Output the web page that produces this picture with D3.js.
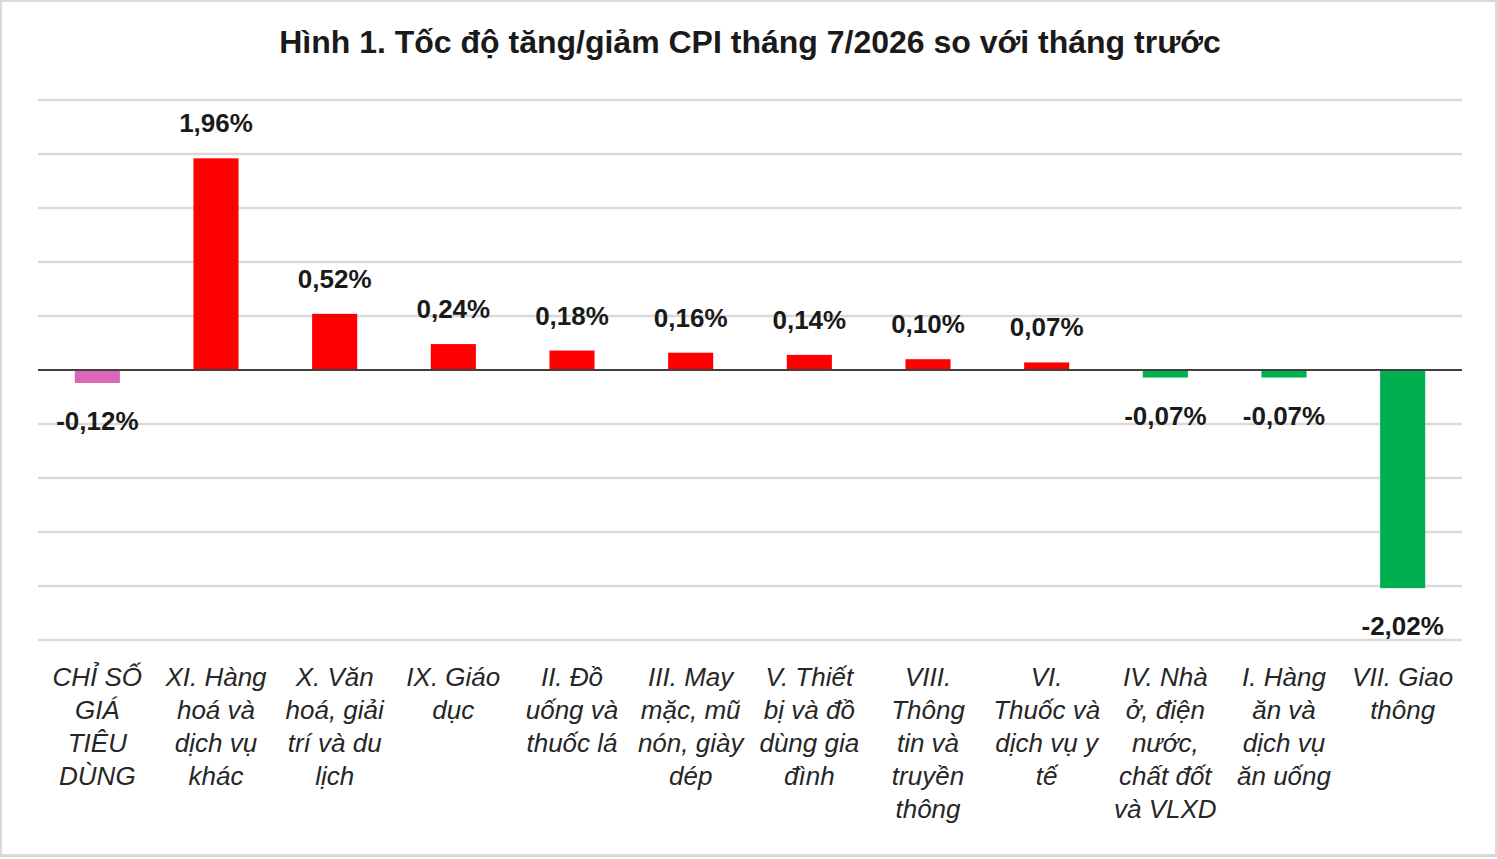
<!DOCTYPE html>
<html><head><meta charset="utf-8">
<script src="https://cdn.jsdelivr.net/npm/d3@7"></script>
<style>
body{margin:0;background:#fff;}
svg{display:block;font-family:"Liberation Sans",Arial,sans-serif;}
</style></head>
<body><svg id="c" width="1497" height="859"></svg>
<script>
const categories = [
  ["CHỈ SỐ", "GIÁ", "TIÊU", "DÙNG"],
  ["XI. Hàng", "hoá và", "dịch vụ", "khác"],
  ["X. Văn", "hoá, giải", "trí và du", "lịch"],
  ["IX. Giáo", "dục"],
  ["II. Đồ", "uống và", "thuốc lá"],
  ["III. May", "mặc, mũ", "nón, giày", "dép"],
  ["V. Thiết", "bị và đồ", "dùng gia", "đình"],
  ["VIII.", "Thông", "tin và", "truyền", "thông"],
  ["VI.", "Thuốc và", "dịch vụ y", "tế"],
  ["IV. Nhà", "ở, điện", "nước,", "chất đốt", "và VLXD"],
  ["I. Hàng", "ăn và", "dịch vụ", "ăn uống"],
  ["VII. Giao", "thông"]
];
const values = [-0.12, 1.96, 0.52, 0.24, 0.18, 0.16, 0.14, 0.10, 0.07, -0.07, -0.07, -2.02];
const gridTicks = [-2.5, -2, -1.5, -1, -0.5, 0.5, 1, 1.5, 2, 2.5];

const svg = d3.select("#c");
svg.append("rect").attr("x", 0.5).attr("y", 0.5).attr("width", 1496).attr("height", 855)
  .attr("fill", "#fff").attr("stroke", "#d9d9d9").attr("stroke-width", 3);

svg.append("text").attr("x", 750).attr("y", 53).attr("text-anchor", "middle")
  .attr("font-size", 32).attr("font-weight", "bold").attr("fill", "#1a1a1a")
  .text("Hình 1. Tốc độ tăng/giảm CPI tháng 7/2026 so với tháng trước");

const x = d3.scaleBand().domain(d3.range(values.length)).range([38, 1462]).paddingInner(0.62).paddingOuter(0.31);
const y = d3.scaleLinear().domain([-2.5, 2.5]).range([640, 100]);

svg.append("g").selectAll("line").data(gridTicks).join("line")
  .attr("x1", 38).attr("x2", 1462).attr("y1", d => y(d)).attr("y2", d => y(d))
  .attr("stroke", "#d9d9d9").attr("stroke-width", 2.5);

const color = (d, i) => i === 0 ? "#d966b8" : d >= 0 ? "#ff0000" : "#00b050";

svg.append("g").selectAll("rect").data(values).join("rect")
  .attr("x", (d, i) => x(i)).attr("width", x.bandwidth())
  .attr("y", d => y(Math.max(0, d))).attr("height", d => Math.abs(y(d) - y(0)))
  .attr("fill", color);

svg.append("line").attr("x1", 38).attr("x2", 1462).attr("y1", y(0)).attr("y2", y(0))
  .attr("stroke", "#404040").attr("stroke-width", 2);

const fmt = d => d.toFixed(2).replace(".", ",") + "%";
svg.append("g").selectAll("text").data(values).join("text")
  .attr("x", (d, i) => x(i) + x.bandwidth() / 2)
  .attr("y", d => d >= 0 ? y(d) - 26 : y(d) + 47)
  .attr("text-anchor", "middle").attr("font-size", 26).attr("font-weight", "bold")
  .attr("fill", "#1a1a1a").text(fmt);

const lab = svg.append("g").selectAll("text").data(categories).join("text")
  .attr("text-anchor", "middle").attr("font-size", 26).attr("font-style", "italic")
  .attr("fill", "#262626");
lab.each(function (lines, i) {
  d3.select(this).selectAll("tspan").data(lines).join("tspan")
    .attr("x", x(i) + x.bandwidth() / 2).attr("y", (l, j) => 686 + j * 33).text(l => l);
});
</script></body></html>
